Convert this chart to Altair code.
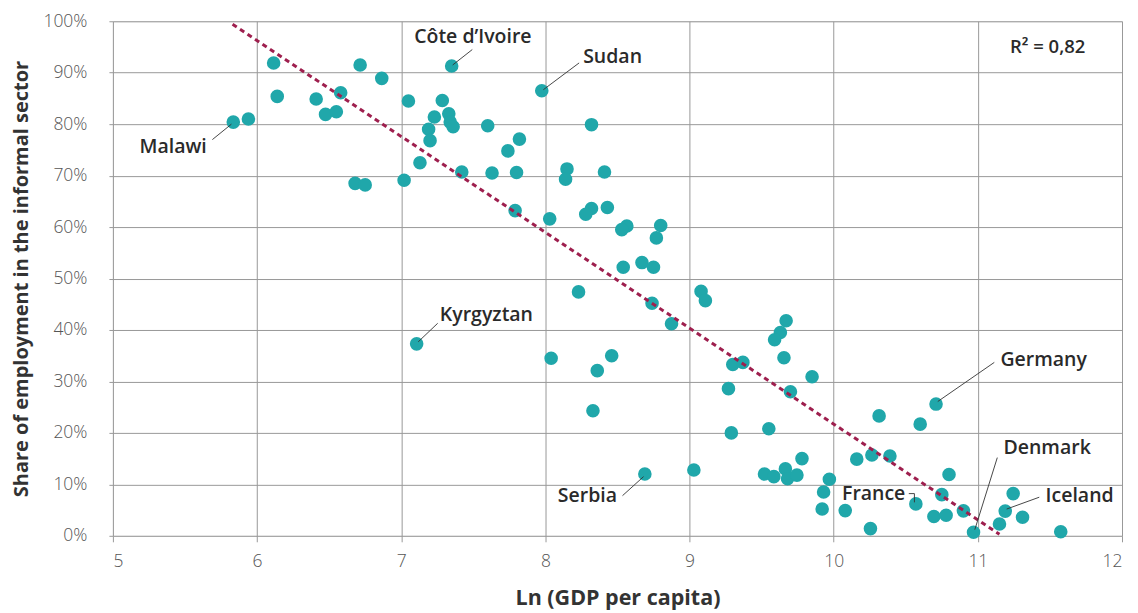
import altair as alt
import pandas as pd

# Scatter data: Ln(GDP per capita) and share of informal employment (%)
ln_gdp = [5.835, 5.94, 6.115, 6.14, 6.41, 6.475, 6.55, 6.58, 6.68, 6.715,
          6.75, 6.865, 7.02, 7.05, 7.13, 7.19, 7.20, 7.23, 7.285, 7.33,
          7.34, 7.36, 7.35, 7.42, 7.60, 7.63, 7.975, 8.32, 7.82, 7.74,
          7.80, 8.15, 8.14, 8.41, 7.79, 8.03, 8.32, 8.28, 8.43, 8.565,
          8.53, 8.80, 8.77, 8.54, 8.67, 8.75, 8.23, 9.08, 9.11, 8.74,
          8.875, 9.67, 9.63, 9.59, 8.04, 8.46, 8.36, 9.30, 9.37, 9.655,
          9.85, 9.27, 9.70, 8.33, 10.315, 10.60, 9.29, 9.55, 9.78, 10.16,
          10.265, 10.39, 8.69, 9.03, 9.52, 9.585, 9.665, 9.68, 9.745, 9.97,
          9.93, 9.92, 10.08, 10.255, 10.57, 10.71, 10.80, 10.75, 10.695, 10.78,
          10.90, 10.97, 11.15, 11.19, 11.245, 11.31, 11.575, 7.107]
informal = [80.4, 81.0, 91.9, 85.4, 84.9, 81.9, 82.4, 86.1, 68.5, 91.5,
            68.2, 88.9, 69.1, 84.5, 72.5, 79.0, 76.8, 81.4, 84.6, 82.0,
            80.4, 79.5, 91.3, 70.7, 79.7, 70.5, 86.5, 79.9, 77.1, 74.8,
            70.6, 71.3, 69.3, 70.7, 63.2, 61.6, 63.6, 62.5, 63.8, 60.2,
            59.5, 60.3, 57.9, 52.2, 53.1, 52.2, 47.4, 47.5, 45.7, 45.2,
            41.2, 41.8, 39.5, 38.1, 34.5, 35.0, 32.1, 33.3, 33.7, 34.6,
            30.9, 28.6, 28.0, 24.3, 23.3, 21.7, 20.0, 20.8, 15.0, 14.9,
            15.7, 15.5, 12.0, 12.8, 12.0, 11.5, 13.0, 11.1, 11.8, 11.0,
            8.5, 5.2, 4.9, 1.4, 6.2, 25.6, 11.9, 8.0, 3.75, 4.0,
            4.85, 0.7, 2.3, 4.8, 8.2, 3.6, 0.8, 37.3]

# Trend line end points
trend_x = [5.83, 11.15]
trend_y = [99.4, 0.3]

# Country annotations
label_text = ["Côte d’Ivoire", "Sudan", "Malawi", "Kyrgyztan", "Serbia",
              "France", "Germany", "Denmark", "Iceland"]
label_x = [7.497, 8.262, 5.651, 7.268, 8.497, 10.497, 11.157, 11.178, 11.47]
label_y = [96.9, 93.0, 75.5, 42.9, 7.8, 8.2, 34.2, 17.1, 7.8]
label_align = ["center", "left", "right", "left", "right", "right", "left", "left", "left"]

# Leader lines (start -> end)
lead_x1 = [7.357, 7.986, 5.69, 7.118, 8.535, 10.521, 10.56, 10.722, 10.979, 11.20]
lead_y1 = [91.5, 86.7, 77.0, 37.7, 7.8, 8.2, 8.2, 26.1, 1.2, 5.2]
lead_x2 = [7.493, 8.234, 5.822, 7.253, 8.681, 10.56, 10.56, 11.114, 11.135, 11.426]
lead_y2 = [94.5, 91.9, 80.0, 41.3, 11.5, 8.2, 6.5, 33.7, 15.2, 7.5]

r2_text = ["R² = 0,82"]
r2_x = [11.484]
r2_y = [95.0]

FONT = "Open Sans"

pts = pd.DataFrame({"x": ln_gdp, "y": informal})
trend = pd.DataFrame({"x": trend_x, "y": trend_y})
labels = pd.DataFrame({"t": label_text, "x": label_x, "y": label_y, "a": label_align})
leads = pd.DataFrame({"x": lead_x1, "y": lead_y1, "x2": lead_x2, "y2": lead_y2})
r2 = pd.DataFrame({"t": r2_text, "x": r2_x, "y": r2_y})

xscale = alt.Scale(domain=[5, 12], nice=False, zero=False)
yscale = alt.Scale(domain=[0, 100], nice=False)

xaxis = alt.Axis(values=[5, 6, 7, 8, 9, 10, 11, 12], format="d",
                 title="Ln (GDP per capita)", grid=True, gridColor="#999999",
                 gridWidth=1, domain=False, tickColor="#999999", tickSize=6,
                 labelPadding=11, labelFont=FONT, labelFontSize=17.5,
                 labelFontWeight=300, labelColor="#555555",
                 titleFont=FONT, titleFontSize=21.5, titleFontWeight=700,
                 titleColor="#333333", titleY=63, titleBaseline="middle")
yaxis = alt.Axis(values=list(range(0, 101, 10)), labelExpr="datum.value + '%'",
                 title="Share of employment in the informal sector", grid=True,
                 gridColor="#999999", gridWidth=1, domain=False,
                 tickColor="#999999", tickSize=4, labelPadding=22,
                 labelFont=FONT, labelFontSize=17.5, labelFontWeight=300,
                 labelColor="#555555", titleFont=FONT, titleFontSize=20,
                 titleFontWeight=700, titleColor="#333333", titleX=-91,
                 titleY=257.5, titleBaseline="middle", titleAlign="center")

base_pts = alt.Chart(pts).mark_circle(size=185, color="#20A7AA", opacity=1).encode(
    x=alt.X("x:Q", scale=xscale, axis=xaxis),
    y=alt.Y("y:Q", scale=yscale, axis=yaxis),
)

trend_line = alt.Chart(trend).mark_line(color="#9E1F4E", strokeWidth=3,
                                        strokeDash=[5, 4]).encode(
    x=alt.X("x:Q", scale=xscale), y=alt.Y("y:Q", scale=yscale))

lead_lines = alt.Chart(leads).mark_rule(color="#333333", strokeWidth=0.9).encode(
    x=alt.X("x:Q", scale=xscale), y=alt.Y("y:Q", scale=yscale),
    x2="x2:Q", y2="y2:Q")

def lab(align):
    return alt.Chart(labels[labels["a"] == align]).mark_text(
        font=FONT, fontSize=19.5, fontWeight=600, color="#2a2a2a",
        align=align, baseline="middle").encode(
        x=alt.X("x:Q", scale=xscale), y=alt.Y("y:Q", scale=yscale), text="t:N")

r2_mark = alt.Chart(r2).mark_text(font=FONT, fontSize=18.5, fontWeight=600,
                                  color="#2a2a2a", align="center",
                                  baseline="middle").encode(
    x=alt.X("x:Q", scale=xscale), y=alt.Y("y:Q", scale=yscale), text="t:N")

chart = alt.layer(base_pts, trend_line, lead_lines, lab("left"), lab("right"),
                  lab("center"), r2_mark).properties(
    width=1010, height=515,
    autosize=alt.AutoSizeParams(type="none"),
    padding={"left": 105, "top": 13, "right": 8, "bottom": 74},
).configure_view(stroke=None).configure(background="white")

chart.save("out.html", embed_options={"renderer": "svg", "actions": False})
